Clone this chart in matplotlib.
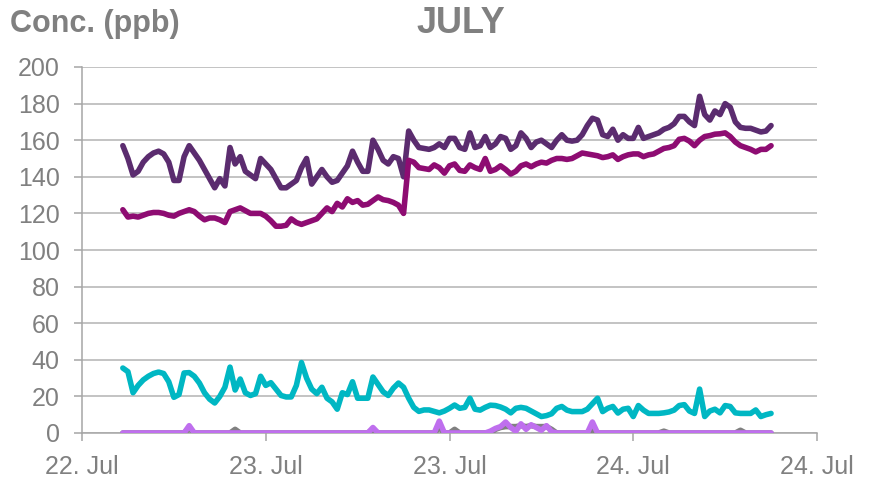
import matplotlib
matplotlib.use('Agg')
from matplotlib import pyplot as plt
import matplotlib.dates as mdates
import pandas as pd

# 20-minute readings, 22 Jul 14:40 -> 24 Jul 09:00
times = pd.date_range('2023-07-22 14:40', periods=128, freq='20min')

dark_purple = [157, 150, 141, 143, 148, 151, 153, 154, 152.5, 148,
               138, 138, 151, 157, 153, 149, 144, 139, 134, 139,
               135, 156, 147, 151, 143, 141, 139, 150, 147, 144,
               139, 134, 134, 136, 138, 145, 150, 136, 140, 144,
               140, 137, 138, 142, 146, 154, 148, 143, 143, 160,
               155, 149, 147, 151, 150, 140, 165, 160, 156, 155.5,
               155, 156, 158, 156, 161, 161, 156, 155, 164, 156,
               157, 162, 156, 158, 162, 161, 155, 157, 164, 161,
               156, 159, 160, 158, 156, 160, 163, 160, 159.5, 160,
               163, 168, 172, 171, 163, 162, 166, 160, 163, 161,
               161, 167, 161, 162, 163, 164, 166, 167, 169, 173,
               173, 170, 168, 184, 174, 171, 176, 174, 180, 178,
               170, 167, 166.5, 166.5, 165.5, 164.5, 165, 168]

magenta = [122, 118, 118.5, 118, 119, 120, 120.5, 120.5, 120, 119,
           118.5, 120, 121, 122, 121, 118.5, 116.5, 117.5, 117.5, 116.5,
           115, 121, 122, 123, 121.5, 120, 120, 120, 118.5, 116,
           113, 113, 113.5, 117, 115, 114, 115, 116, 117, 120,
           123, 121, 125.5, 123.5, 128, 126, 127, 124.5, 125, 127,
           129, 127.5, 127, 126, 124.5, 120, 149, 148, 145, 144.5,
           144, 146.5, 145, 142, 146, 147, 143.5, 143, 146.5, 145,
           144, 150, 143, 144, 146, 144, 141.5, 143, 146, 147,
           145.5, 147, 148, 147.5, 149, 150, 150, 149.5, 150, 151.5,
           153, 152.5, 152, 151.5, 150.5, 151, 152, 149.5, 151, 152,
           152.5, 152.5, 151, 152, 152.5, 154, 155.5, 156, 157, 160.5,
           161, 159.5, 157, 160, 162, 162.5, 163.3, 163.5, 164, 162,
           159, 157, 156, 155, 153.6, 155, 155, 157]

teal = [35.5, 33.5, 22, 26, 29, 31, 32.5, 33.3, 32.5, 28,
        19.5, 21, 32.8, 33, 31, 27.3, 22, 18.5, 16.4, 20,
        25, 36, 23.5, 29.5, 22, 20.5, 21.5, 31, 26, 27.5,
        24, 20.5, 19.7, 19.7, 26, 38.5, 30, 24, 21.5, 25,
        19, 17, 13, 22, 21, 28, 19, 19, 19, 30.6,
        26.5, 22.5, 20.5, 24.5, 27.3, 25, 19, 14, 11.8, 12.6,
        12.6, 11.8, 11, 12, 13.5, 15.3, 13.5, 14, 19, 13,
        12.5, 14, 15.2, 15, 14.2, 13, 11, 13.5, 14, 13.5,
        12, 10.5, 9, 9.5, 10.5, 13.5, 14.5, 12.5, 11.7, 11.7,
        11.7, 13, 16, 19, 11.7, 13.5, 14.5, 10.9, 13, 13.5,
        9, 15, 12.5, 10.7, 10.7, 10.7, 11, 11.5, 12.5, 15,
        15.5, 12, 10.7, 24, 9, 12, 13, 11, 15, 14.5,
        11, 10.7, 10.7, 10.7, 12.6, 9, 10, 10.7]

grey = [0, 0, 0, 0, 0, 0, 0, 0, 0, 0,
        0, 0, 0, 2.5, 0, 0, 0, 0, 0, 0,
        0, 0, 2, 0, 0, 0, 0, 0, 0, 0,
        0, 0, 0, 0, 0, 0, 0, 0, 0, 0,
        0, 0, 0, 0, 0, 0, 0, 0, 0, 2,
        0, 0, 0, 0, 0, 0, 0, 0, 0, 0,
        0, 0, 3, 0, 0, 2, 0, 0, 0, 0,
        0, 0, 0, 2, 3, 3.5, 3.5, 3.5, 4, 3.5,
        4, 3.5, 3.5, 3.5, 2, 0, 0, 0, 0, 0,
        0, 0, 2, 0, 0, 0, 0, 0, 0, 0,
        0, 0, 0, 0, 0, 0, 1, 0, 0, 0,
        0, 0, 0, 0, 0, 0, 0, 0, 0, 0,
        0, 1.5, 0, 0, 0, 0, 0, 0]

light_purple = [0, 0, 0, 0, 0, 0, 0, 0, 0, 0,
                0, 0, 0, 4, 0, 0, 0, 0, 0, 0,
                0, 0, 0, 0, 0, 0, 0, 0, 0, 0,
                0, 0, 0, 0, 0, 0, 0, 0, 0, 0,
                0, 0, 0, 0, 0, 0, 0, 0, 0, 3,
                0, 0, 0, 0, 0, 0, 0, 0, 0, 0,
                0, 0, 6.5, 0, 0, 0, 0, 0, 0, 0,
                0, 0, 1, 2.5, 3.5, 6, 3, 1, 5, 2,
                4.5, 3, 1.5, 4, 0.7, 0, 0, 0, 0, 0,
                0, 0, 6, 0, 0, 0, 0, 0, 0, 0,
                0, 0, 0, 0, 0, 0, 0, 0, 0, 0,
                0, 0, 0, 0, 0, 0, 0, 0, 0, 0,
                0, 0, 0, 0, 0, 0, 0, 0]

series = [(dark_purple, '#5B2C6F'), (magenta, '#8E0C72'), (teal, '#00B7C3'),
          (grey, '#808080'), (light_purple, '#BF6FEE')]

txt = '#808080'
plt.rcParams['font.family'] = ['Liberation Sans', 'DejaVu Sans']

fig = plt.figure(figsize=(8.69, 4.78), dpi=100)
ax = fig.add_axes([82 / 869, 1 - 433 / 478, 735 / 869, 366 / 478])

for vals, col in series:
    ax.plot(times, vals, color=col, lw=4.0, solid_joinstyle='round', solid_capstyle='round', zorder=3)

ax.set_ylim(0, 200)
ax.set_yticks(range(0, 201, 20))
ax.set_xlim(pd.Timestamp('2023-07-22 12:00'), pd.Timestamp('2023-07-24 12:00'))
ax.xaxis.set_major_locator(mdates.HourLocator(byhour=[0, 12]))
ax.xaxis.set_major_formatter(mdates.DateFormatter('%d. %b'))

ax.grid(axis='y', color='#B3B3B3', lw=1.1, zorder=0)
ax.set_axisbelow(True)
for s in ['top', 'right']:
    ax.spines[s].set_visible(False)
for s in ['left', 'bottom']:
    ax.spines[s].set_color('#A6A6A6')
    ax.spines[s].set_linewidth(1.1)
ax.tick_params(axis='y', length=6, width=1.1, color='#A6A6A6', labelcolor=txt, labelsize=18, pad=10)
ax.tick_params(axis='x', length=6, width=1.1, color='#A6A6A6', labelcolor=txt, labelsize=18, pad=10)

fig.text(10 / 869, 1 - 9 / 478, 'Conc. (ppb)', color=txt, fontsize=22, fontweight='bold', ha='left', va='top')
fig.text(461 / 869, 1 - 6 / 478, 'JULY', color=txt, fontsize=26, fontweight='bold', ha='center', va='top')

fig.savefig('out.png', dpi=100)
